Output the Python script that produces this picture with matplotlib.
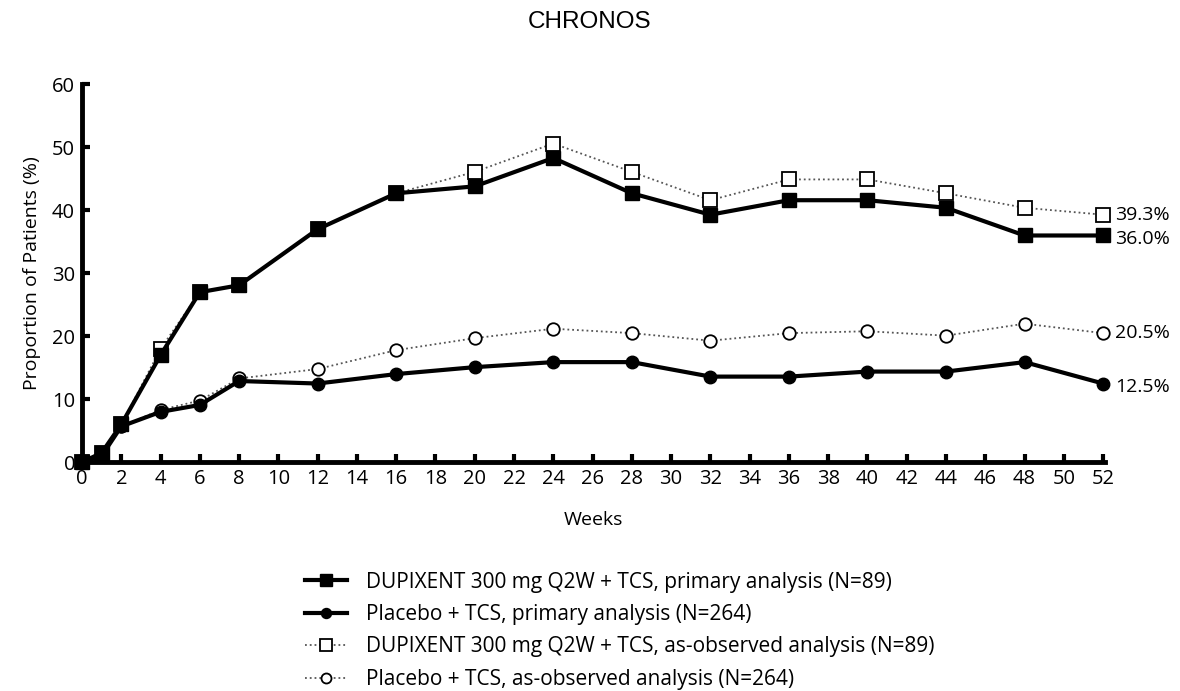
import numpy as np
import matplotlib.pyplot as plt

plt.rcParams['font.family'] = ['Open Sans', 'DejaVu Sans']

# недели и доли пациентов (%)
weeks = [0, 1, 2, 4, 6, 8, 12, 16, 20, 24, 28, 32, 36, 40, 44, 48, 52]
dupi_primary = [0, 1.5, 6.0, 17.0, 27.0, 28.1, 37.0, 42.7, 43.8, 48.3, 42.7, 39.3, 41.6, 41.6, 40.4, 36.0, 36.0]
dupi_observed = [0, 1.5, 6.0, 18.0, 27.0, 28.1, 37.0, 42.7, 46.1, 50.6, 46.1, 41.6, 44.9, 44.9, 42.7, 40.4, 39.3]
plac_primary = [0, 1.0, 5.7, 8.0, 9.1, 12.9, 12.5, 14.0, 15.1, 15.9, 15.9, 13.6, 13.6, 14.4, 14.4, 15.9, 12.5]
plac_observed = [0, 1.0, 5.7, 8.3, 9.8, 13.3, 14.8, 17.8, 19.7, 21.2, 20.5, 19.3, 20.5, 20.8, 20.1, 22.0, 20.5]

end_labels = ['39.3%', '36.0%', '20.5%', '12.5%']
end_values = [dupi_observed[-1], dupi_primary[-1], plac_observed[-1], plac_primary[-1]]
end_shift = [0, -0.6, 0, -0.6]

fig = plt.figure(figsize=(11.8, 6.91), dpi=100)
ax = fig.add_axes([0.0695, 0.331, 0.867, 0.547])

l3, = ax.plot(weeks, dupi_observed, color='#555555', linestyle=':', linewidth=1.3,
              marker='s', markersize=10, markerfacecolor='white', markeredgecolor='black',
              markeredgewidth=1.3, clip_on=False, zorder=3)
l4, = ax.plot(weeks, plac_observed, color='#555555', linestyle=':', linewidth=1.3,
              marker='o', markersize=9, markerfacecolor='white', markeredgecolor='black',
              markeredgewidth=1.3, clip_on=False, zorder=3)
l1, = ax.plot(weeks, dupi_primary, color='black', linewidth=3,
              marker='s', markersize=10, clip_on=False, zorder=4)
l2, = ax.plot(weeks, plac_primary, color='black', linewidth=3,
              marker='o', markersize=9, clip_on=False, zorder=4)

for lab, v, s in zip(end_labels, end_values, end_shift):
    ax.text(52.6, v + s, lab, fontsize=14, va='center', ha='left')

ax.set_xlim(0, 52.1)
ax.set_ylim(0, 60)
ax.set_xticks(np.arange(0, 53, 2))
ax.set_yticks(np.arange(0, 61, 10))
ax.tick_params(direction='in', length=6, width=3, labelsize=14.5, pad=5)
for side in ['top', 'right']:
    ax.spines[side].set_visible(False)
for side in ['left', 'bottom']:
    ax.spines[side].set_linewidth(3.5)

ax.set_xlabel('Weeks', fontsize=14, labelpad=16)
ax.set_ylabel('Proportion of Patients (%)', fontsize=14, labelpad=8)

fig.text(0.5, 0.968, 'CHRONOS', ha='center', va='center', fontsize=17.5,
         family=['Liberation Sans', 'DejaVu Sans'])

fig.legend([l1, l2, l3, l4],
           ['DUPIXENT 300 mg Q2W + TCS, primary analysis (N=89)',
            'Placebo + TCS, primary analysis (N=264)',
            'DUPIXENT 300 mg Q2W + TCS, as-observed analysis (N=89)',
            'Placebo + TCS, as-observed analysis (N=264)'],
           loc='upper left', bbox_to_anchor=(0.243, 0.2), frameon=False,
           fontsize=15, handlelength=2.0, handletextpad=0.9, labelspacing=0.55, markerscale=0.8)

plt.savefig('out.png')
